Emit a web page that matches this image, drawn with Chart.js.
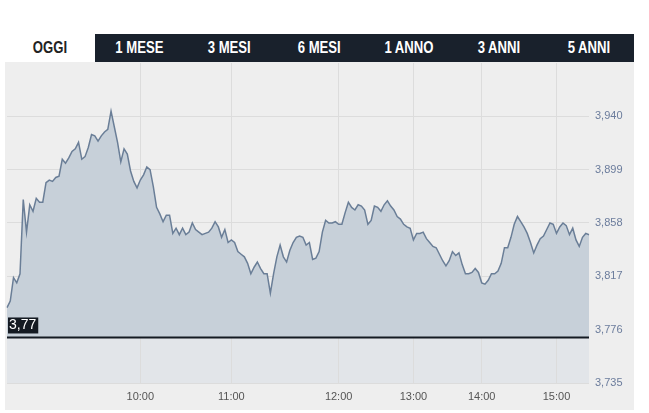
<!DOCTYPE html>
<html>
<head>
<meta charset="utf-8">
<script src="https://cdn.jsdelivr.net/npm/chart.js@4/dist/chart.umd.min.js"></script>
<style>
  body { margin: 0; background: #ffffff; font-family: Arial, "Liberation Sans", sans-serif; }
  #tabs { position: absolute; left: 5px; top: 34px; width: 629px; height: 28px; display: flex; background: #19212c; }
  #tabs div { flex: 1; text-align: center; line-height: 28px; color: #ffffff; font-weight: bold; font-size: 16px; font-family: Arial, sans-serif; }
  #tabs div span { display: inline-block; transform: scaleX(0.82); }
  #tabs div.active { background: #ffffff; color: #222222; }
  #panel { position: absolute; left: 5px; top: 62px; width: 629px; height: 348px; background: #eeeeee; }
</style>
</head>
<body>
<div id="tabs">
  <div class="active"><span>OGGI</span></div><div><span>1 MESE</span></div><div><span>3 MESI</span></div><div><span>6 MESI</span></div><div><span>1 ANNO</span></div><div><span>3 ANNI</span></div><div><span>5 ANNI</span></div>
</div>
<div id="panel"><canvas id="intraday-chart"></canvas></div>
<script>
// Intraday price chart
// ------------------------------

// Prices sampled through the session
var prices = [
    3.793, 3.798, 3.816, 3.812, 3.819, 3.876, 3.851, 3.872, 3.867, 3.877,
    3.874, 3.874, 3.889, 3.891, 3.890, 3.893, 3.894, 3.907, 3.904, 3.908,
    3.913, 3.915, 3.920, 3.907, 3.909, 3.916, 3.926, 3.925, 3.921, 3.925,
    3.928, 3.930, 3.944, 3.932, 3.920, 3.905, 3.915, 3.911, 3.898, 3.890,
    3.885, 3.891, 3.895, 3.901, 3.899, 3.886, 3.870, 3.865, 3.859, 3.864,
    3.864, 3.850, 3.854, 3.849, 3.854, 3.849, 3.851, 3.858, 3.853, 3.851,
    3.849, 3.850, 3.851, 3.854, 3.859, 3.855, 3.847, 3.853, 3.843, 3.845,
    3.843, 3.836, 3.834, 3.832, 3.827, 3.819, 3.824, 3.828, 3.823, 3.819,
    3.819, 3.804, 3.819, 3.832, 3.841, 3.832, 3.828, 3.837, 3.843, 3.847,
    3.848, 3.847, 3.841, 3.843, 3.830, 3.831, 3.836, 3.851, 3.860, 3.858,
    3.858, 3.859, 3.857, 3.857, 3.866, 3.874, 3.870, 3.868, 3.872, 3.871,
    3.868, 3.857, 3.860, 3.871, 3.870, 3.867, 3.872, 3.875, 3.871, 3.868,
    3.863, 3.861, 3.857, 3.855, 3.854, 3.845, 3.850, 3.850, 3.851, 3.846,
    3.843, 3.840, 3.839, 3.834, 3.829, 3.825, 3.829, 3.836, 3.833, 3.835,
    3.826, 3.819, 3.819, 3.820, 3.823, 3.820, 3.812, 3.811, 3.814, 3.819,
    3.819, 3.821, 3.827, 3.839, 3.839, 3.847, 3.857, 3.863, 3.859, 3.855,
    3.850, 3.843, 3.835, 3.841, 3.846, 3.848, 3.853, 3.858, 3.857, 3.850,
    3.855, 3.858, 3.856, 3.849, 3.854, 3.845, 3.840, 3.847, 3.850, 3.849
];

// Hour labels and the sample they fall on
var hourLabels = ["10:00", "11:00", "12:00", "13:00", "14:00", "15:00"];
var hourIndex = [41, 69, 102, 125, 146, 169];

// Price axis
var yTicks = [3.735, 3.776, 3.817, 3.858, 3.899, 3.940];
var yMin = 3.735;
var yMax = 3.981;

// Reference price (previous close)
var baseline = 3.77;

var labels = prices.map(function(p, i) {
    var k = hourIndex.indexOf(i);
    return k >= 0 ? hourLabels[k] : "";
});

// Light band under the reference price + reference line with its tag
var baselinePlugin = {
    id: "baseline",
    beforeDraw: function(chart) {
        var c = chart.ctx, a = chart.chartArea;
        var y = chart.scales.y.getPixelForValue(baseline);
        c.save();
        c.fillStyle = "#e2e5e9";
        c.fillRect(a.left, y, a.right - a.left, a.bottom - y);
        c.restore();
    },
    afterDraw: function(chart) {
        var c = chart.ctx, a = chart.chartArea;
        var y = chart.scales.y.getPixelForValue(baseline);
        c.save();
        c.strokeStyle = "#141a22";
        c.lineWidth = 2;
        c.beginPath();
        c.moveTo(a.left, y);
        c.lineTo(a.right, y);
        c.stroke();
        c.font = "14px Arial";
        var txt = baseline.toFixed(2).replace(".", ",");
        var w = c.measureText(txt).width + 3;
        c.fillStyle = "#141a22";
        c.fillRect(a.left + 1, y - 20, w, 16);
        c.fillStyle = "#ffffff";
        c.textBaseline = "middle";
        c.fillText(txt, a.left + 2, y - 12);
        c.restore();
    }
};

var chartData = {
    labels: labels,
    datasets: [{
        data: prices,
        borderColor: "#6a7e97",
        borderWidth: 1.5,
        backgroundColor: "#c7d0d9",
        fill: { value: baseline },
        pointRadius: 0,
        tension: 0
    }]
};

var chartOptions = {
    responsive: true,
    maintainAspectRatio: false,
    animation: false,
    layout: { padding: { left: 2, top: 1 } },
    plugins: { legend: { display: false }, tooltip: { enabled: false } },
    scales: {
        x: {
            type: "category",
            offset: false,
            z: 1,
            border: { display: false },
            grid: { color: "#dcdcdc", drawTicks: false },
            afterBuildTicks: function(s) {
                s.ticks = hourIndex.map(function(i) { return { value: i }; });
            },
            afterFit: function(s) {
                s.height = 27;
                s.paddingLeft = 0;
                s.paddingRight = 0;
            },
            ticks: {
                autoSkip: false,
                maxRotation: 0,
                padding: 7,
                color: "#555555",
                font: { family: "Arial", size: 11 }
            }
        },
        y: {
            type: "linear",
            position: "right",
            min: yMin,
            max: yMax,
            z: 1,
            border: { display: false },
            grid: { color: "#dcdcdc", drawTicks: false },
            afterBuildTicks: function(s) {
                s.ticks = yTicks.map(function(v) { return { value: v }; });
            },
            afterFit: function(s) {
                s.width = 45;
                s.paddingTop = 0;
                s.paddingBottom = 0;
            },
            ticks: {
                padding: 6,
                color: "#6b7c9c",
                font: { family: "Arial", size: 11 },
                callback: function(v) { return v.toFixed(3).replace(".", ","); }
            }
        }
    }
};

var config = {
    type: "line",
    options: chartOptions,
    data: chartData,
    plugins: [baselinePlugin]
};

// Create the chart
var intradayChart = new Chart(document.getElementById("intraday-chart"), config);
</script>
</body>
</html>
